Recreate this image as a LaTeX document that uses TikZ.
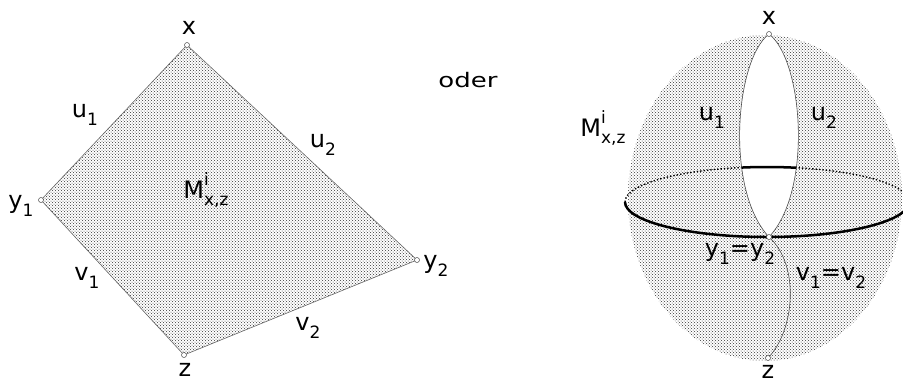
\documentclass[tikz,border=0pt]{standalone}
\usepackage{fontspec}
\setmainfont{DejaVu Sans}
\usetikzlibrary{patterns}

\newcommand{\lsub}[1]{\raisebox{-0.32em}{\fontsize{17}{17}\selectfont #1}}
\newcommand{\Mlabel}{M\rlap{\raisebox{0.55em}{\fontsize{17}{17}\selectfont i}}\lsub{x,z}}

\begin{document}
\begin{tikzpicture}[x=1pt,y=-1pt,
		surface/.style={pattern=crosshatch dots, pattern color=black!80},
		rim/.style={draw=black!60, line width=0.6pt},
		vertex/.style={circle, draw=black!70, fill=white, line width=0.5pt, inner sep=0pt, minimum size=5pt},
		lbl/.style={font=\fontsize{24}{24}\selectfont, inner sep=0pt},
		equator/.style={line width=2.5pt},
		]
		\useasboundingbox (0,0) rectangle (903,384);
		
		% Left: quadrilateral surface
		\coordinate (X) at (187,45);
		\coordinate (Y1) at (41,200);
		\coordinate (Z) at (184,355);
		\coordinate (Y2) at (417,260);
		\fill[surface] (X) -- (Y1) -- (Z) -- (Y2) -- cycle;
		\draw[rim] (X) -- (Y1) -- (Z) -- (Y2) -- cycle;
		\foreach \v in {X,Y1,Z,Y2}
		\node[vertex] at (\v) {};
		
		\node[lbl] (xl) at (189,28) {x};
		\node[lbl] (y1l) at (21,206) {y\lsub{1}};
		\node[lbl] (y2l) at (436,266) {y\lsub{2}};
		\node[lbl] (zl) at (185,370) {z};
		\node[lbl] (u1l) at (85,115) {u\lsub{1}};
		\node[lbl] (u2l) at (323,145) {u\lsub{2}};
		\node[lbl] (v1l) at (87,278) {v\lsub{1}};
		\node[lbl] (v2l) at (308,328) {v\lsub{2}};
		\node[lbl] (ml) at (206,190) {\Mlabel};
		
		\node[font=\fontsize{20}{20}\selectfont, inner sep=0pt] (oder) at (468,80) {\scalebox{1.3}[1]{oder}};
		
		% Right: sphere with pinched lens
		\coordinate (S) at (765,198);
		\coordinate (XR) at (769,34);
		\coordinate (YR) at (769,237);
		\coordinate (ZR) at (768,358);
		\fill[surface] (S) ellipse [x radius=137, y radius=163];
		
		% back half of the equator
		\draw[line width=1.4pt, dotted] (625,202) arc [start angle=180, end angle=360, x radius=142, y radius=35];
		
		% lens between u1 and u2
		\filldraw[fill=white, draw=black!70, line width=0.6pt]
		(XR) .. controls (735,60) and (725,190) .. (YR)
		.. controls (813,190) and (803,60) .. (XR);
		\begin{scope}
			\clip (XR) .. controls (735,60) and (725,190) .. (YR)
			.. controls (813,190) and (803,60) .. (XR);
			\draw[equator] (625,202) arc [start angle=180, end angle=360, x radius=142, y radius=35];
		\end{scope}
		
		% front half of the equator
		\draw[equator] (625,202) arc [start angle=180, end angle=0, x radius=142, y radius=35];
		
		% v1 = v2
		\draw[draw=black!70, line width=0.6pt] (YR) .. controls (800,265) and (795,330) .. (ZR);
		
		\foreach \v in {XR,YR,ZR}
		\node[vertex] at (\v) {};
		
		\node[lbl] (xrl) at (769,18) {x};
		\node[lbl] (zrl) at (768,372) {z};
		\node[lbl] (u1r) at (712,118) {u\lsub{1}};
		\node[lbl] (u2r) at (824,118) {u\lsub{2}};
		\node[lbl] (mr) at (603,128) {\Mlabel};
		\node[lbl] (yyr) at (740,254) {y\lsub{1}=y\lsub{2}};
		\node[lbl] (vvr) at (831,278) {v\lsub{1}=v\lsub{2}};
	\end{tikzpicture}
\end{document}
